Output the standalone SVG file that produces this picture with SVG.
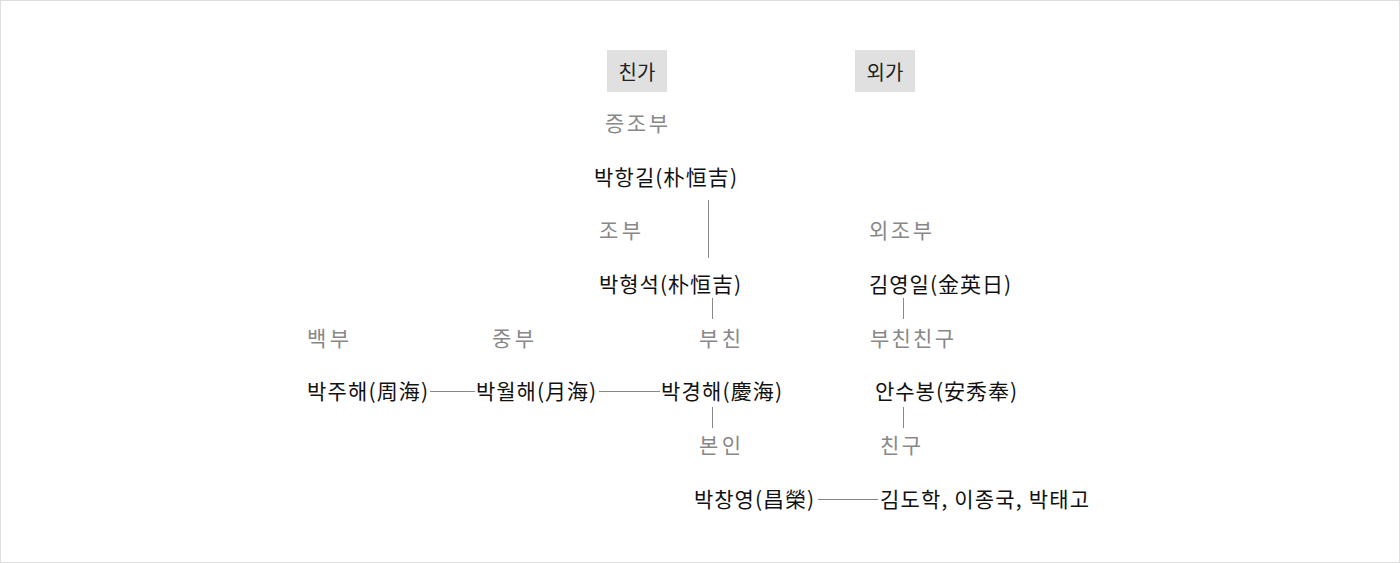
<svg xmlns="http://www.w3.org/2000/svg" width="1400" height="563" viewBox="0 0 1400 563">
<style>
text{font-family:"Noto Sans CJK KR","Noto Sans",sans-serif;font-size:21px}
.nm{fill:#111}
.lb{fill:#888}
.hd{fill:#222;font-size:20px}
.tab{fill:#e0e0e0}
.cn{stroke:#888;stroke-width:1;fill:none}
</style>
<rect x="0.5" y="0.5" width="1399" height="562" fill="#fff" stroke="#ddd"/>
<g id="tab-chinga"><rect class="tab" x="607" y="50" width="60" height="42"/><text class="hd" x="637" y="80" text-anchor="middle">친가</text></g>
<g id="tab-oega"><rect class="tab" x="855" y="50" width="60" height="42"/><text class="hd" x="885" y="80" text-anchor="middle">외가</text></g>
<g id="n-jeungjobu"><text class="lb" x="605" y="131" textLength="63">증조부</text></g>
<g id="n-hanggil"><text class="nm" x="594" y="185" textLength="143">박항길(朴恒吉)</text></g>
<g id="n-jobu"><text class="lb" x="599" y="238" textLength="42">조부</text></g>
<g id="n-hyeongseok"><text class="nm" x="599" y="292" textLength="142">박형석(朴恒吉)</text></g>
<g id="n-bucheon"><text class="lb" x="699" y="346" textLength="42">부친</text></g>
<g id="n-oejobu"><text class="lb" x="869" y="238" textLength="63">외조부</text></g>
<g id="n-yeongil"><text class="nm" x="869" y="292" textLength="142">김영일(金英日)</text></g>
<g id="n-buchinchingu"><text class="lb" x="870" y="346" textLength="84">부친친구</text></g>
<g id="n-baekbu"><text class="lb" x="307" y="346" textLength="42">백부</text></g>
<g id="n-jungbu"><text class="lb" x="492" y="346" textLength="42">중부</text></g>
<g id="n-juhae"><text class="nm" x="307" y="399" textLength="121">박주해(周海)</text></g>
<g id="n-wolhae"><text class="nm" x="476" y="399" textLength="120">박월해(月海)</text></g>
<g id="n-gyeonghae"><text class="nm" x="661" y="399" textLength="121">박경해(慶海)</text></g>
<g id="n-ansubong"><text class="nm" x="875" y="399" textLength="142">안수봉(安秀奉)</text></g>
<g id="n-bonin"><text class="lb" x="699" y="453" textLength="42">본인</text></g>
<g id="n-chingu"><text class="lb" x="880" y="453" textLength="41">친구</text></g>
<g id="n-changyeong"><text class="nm" x="694" y="507" textLength="120">박창영(昌榮)</text></g>
<g id="n-friends"><text class="nm" x="880" y="507" textLength="209">김도학, 이종국, 박태고</text></g>
<g id="connectors">
<line class="cn" x1="708.5" y1="200" x2="708.5" y2="258"/>
<line class="cn" x1="712.5" y1="298" x2="712.5" y2="319"/>
<line class="cn" x1="903.5" y1="298" x2="903.5" y2="319"/>
<line class="cn" x1="430" y1="391.5" x2="475" y2="391.5"/>
<line class="cn" x1="599" y1="391.5" x2="660" y2="391.5"/>
<line class="cn" x1="712.5" y1="407" x2="712.5" y2="428"/>
<line class="cn" x1="903.5" y1="407" x2="903.5" y2="428"/>
<line class="cn" x1="818" y1="499.5" x2="878" y2="499.5"/>
</g>
</svg>
